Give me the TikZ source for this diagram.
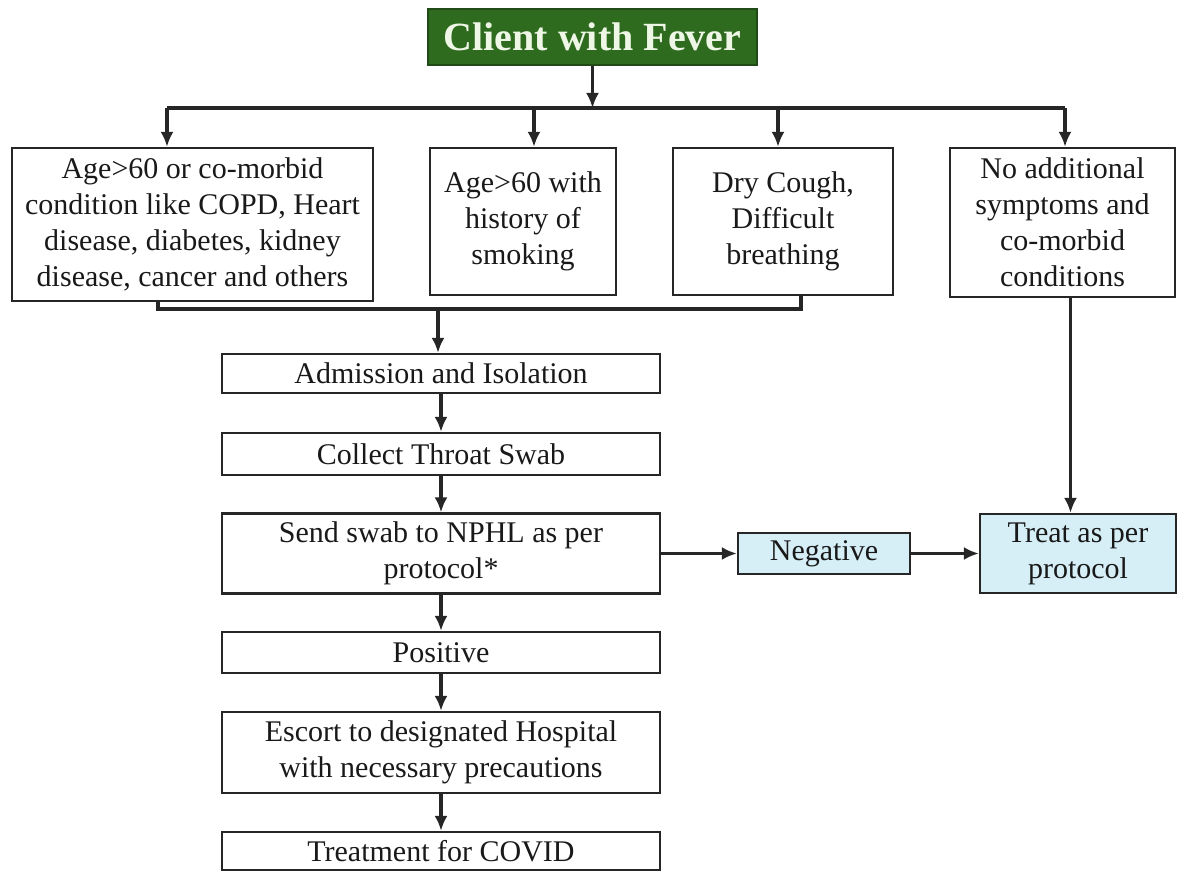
\documentclass[tikz,border=0pt]{standalone}
\usepackage{fontspec}
\setmainfont{Liberation Serif}
\usetikzlibrary{arrows.meta}

\definecolor{vertfonce}{RGB}{47,107,31}
\definecolor{texteclair}{RGB}{238,247,230}
\definecolor{bleuclair}{RGB}{214,239,247}

\tikzset{
	boite/.style={draw=black!85, line width=2.2pt, align=center, inner sep=0pt, text=black!90, font=\fontsize{30}{36}\selectfont},
	trait/.style={draw=black!85, line width=3.2pt},
	fleche/.style={trait, -{Latex[length=15pt,width=13pt]}}
}

\begin{document}
\begin{tikzpicture}[x=1pt, y=-1pt]

	\useasboundingbox (0,0) rectangle (1179,877);

	\def\colx{441} % centre de la colonne de gauche
	\def\colw{438}

	\node[boite, fill=vertfonce, draw=vertfonce!70!black, text=texteclair, minimum width=329, minimum height=56, font=\bfseries\fontsize{40}{44}\selectfont] (fievre) at (592.5,37) {Client with Fever};

	\node[boite, minimum width=361, minimum height=153] (age) at (192.5,224.5) {Age>60 or co-morbid\\condition like COPD, Heart\\disease, diabetes, kidney\\disease, cancer and others};
	\node[boite, minimum width=186, minimum height=147] (fumeur) at (523,221.5) {Age>60 with\\history of\\smoking};
	\node[boite, minimum width=220, minimum height=147] (toux) at (783,221.5) {Dry Cough,\\Difficult\\breathing};
	\node[boite, minimum width=225, minimum height=149] (aucun) at (1062.5,222.5) {No additional\\symptoms and\\co-morbid\\conditions};

	\foreach \nom/\y/\h/\txt in {
		adm/373.5/39/{Admission and Isolation},
		prelev/454/42/{Collect Throat Swab},
		envoi/553.5/80/{Send swab to NPHL as per\\protocol*},
		positif/652.5/41/{Positive},
		escorte/752.5/81/{Escort to designated Hospital\\with necessary precautions},
		covid/851/38/{Treatment for COVID}} {
		\node[boite, minimum width=\colw, minimum height=\h] (\nom) at (\colx,\y) {\txt};
	}

	\node[boite, fill=bleuclair, minimum width=172, minimum height=41] (negatif) at (824,553.5) {Negative};
	\node[boite, fill=bleuclair, minimum width=196, minimum height=79] (traiter) at (1078,553.5) {Treat as per\\protocol};

	% fourche du haut
	\coordinate (g) at (167,108);
	\coordinate (d) at (1065,108);
	\coordinate (f2) at (534,108);
	\coordinate (f3) at (778,108);
	\draw[fleche] (fievre) -- (fievre |- g);
	\draw[trait] (g) -- (d);
	\draw[fleche] (g) -- (g |- age.north);
	\draw[fleche] (f2) -- (f2 |- fumeur.north);
	\draw[fleche] (f3) -- (f3 |- toux.north);
	\draw[fleche] (d) -- (d |- aucun.north);

	% regroupement vers l'admission
	\coordinate (m1) at (158,309);
	\coordinate (m2) at (801,309);
	\coordinate (m) at (438,309);
	\draw[trait] (m1 |- age.south) -- (m1) -- (m2) -- (m2 |- toux.south);
	\draw[fleche] (m) -- (m |- adm.north);

	\foreach \a/\b in {adm/prelev, prelev/envoi, envoi/positif, positif/escorte, escorte/covid} {
		\draw[fleche] (\a) -- (\b);
	}

	\draw[fleche] (envoi) -- (negatif);
	\draw[fleche] (negatif) -- (traiter);
	\draw[fleche] ([xshift=8]aucun.south) -- ([xshift=8]aucun.south |- traiter.north);

\end{tikzpicture}
\end{document}
